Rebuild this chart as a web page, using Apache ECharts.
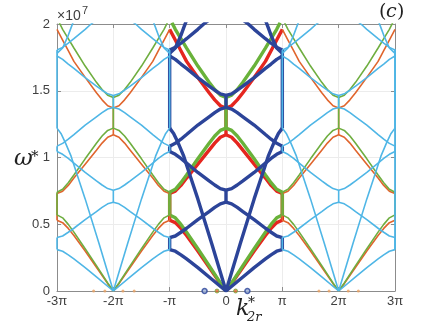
<!DOCTYPE html>
<html lang="en">
<head>
<meta charset="UTF-8">
<title>Band structure (c)</title>
<style>html,body{margin:0;padding:0;background:#fff;}</style>
</head>
<body>
<div id="main" style="width:436px;height:327px;"></div>
<script src="https://cdn.jsdelivr.net/npm/echarts@6/dist/echarts.min.js"></script>
<script>
// x = k2r* / pi , y = omega* / 1e7
var xTicks = [-3, -2, -1, 0, 1, 2, 3];
var xTickLabels = ['-3π', '-2π', '-π', '0', 'π', '2π', '3π'];
var yTickLabels = ['0', '0.5', '1', '1.5', '2'];
var zoneCenters = [-2, 0, 2];

// branches of one half zone: [distance from zone centre (in pi), omega]
var blueS1 = [[0, 0], [0.3, 0.105], [0.5, 0.175], [0.7, 0.24], [0.8, 0.271], [0.9, 0.298], [1, 0.31]];
var blueS2 = [[0, 0.665], [0.1, 0.653], [0.2, 0.626], [0.3, 0.595], [0.5, 0.534], [0.7, 0.47], [0.8, 0.44], [0.9, 0.412], [1, 0.40]];
var blueS3 = [[0, 0.755], [0.1, 0.767], [0.2, 0.794], [0.3, 0.825], [0.5, 0.888], [0.7, 0.958], [0.8, 0.993], [0.9, 1.024], [1, 1.045]];
var blueS4 = [[0, 1.375], [0.1, 1.363], [0.2, 1.336], [0.3, 1.305], [0.5, 1.243], [0.7, 1.172], [0.8, 1.137], [0.9, 1.106], [1, 1.085]];
var blueS5 = [[0, 1.465], [0.1, 1.477], [0.2, 1.504], [0.3, 1.535], [0.5, 1.598], [0.7, 1.668], [0.8, 1.70], [0.9, 1.735], [1, 1.76]];
var blueS6 = [[0.3, 2.03], [0.4, 1.998], [0.5, 1.96], [0.7, 1.89], [0.8, 1.856], [0.9, 1.825], [1, 1.805]];
var blueF1 = [[0, 0], [0.25, 0.35], [0.5, 0.69], [0.65, 0.88], [0.75, 1.01], [0.85, 1.11], [0.93, 1.18], [1, 1.22]];
var blueF2 = [[0.68, 2.05], [0.75, 1.973], [0.8, 1.915], [0.9, 1.82], [1, 1.78]];
var blueCentreGaps = [[0.665, 0.755], [1.375, 1.465]];
var blueEdgeGaps = [[0.31, 0.40], [1.045, 1.085], [1.22, 1.805]];

var greenG1 = [[0, 0], [0.1, 0.06], [0.3, 0.19], [0.5, 0.317], [0.7, 0.441], [0.8, 0.499], [0.9, 0.548], [1, 0.57]];
var greenG2 = [[0, 1.22], [0.1, 1.203], [0.2, 1.161], [0.3, 1.107], [0.5, 0.99], [0.7, 0.869], [0.8, 0.811], [0.9, 0.762], [1, 0.74]];
var greenG3 = [[0, 1.45], [0.1, 1.467], [0.2, 1.509], [0.3, 1.563], [0.5, 1.685], [0.7, 1.82], [0.8, 1.89], [0.9, 1.96], [0.96, 2.01]];
var greenCentreGaps = [[1.22, 1.45]];
var greenEdgeGaps = [[0.57, 0.74]];

var redR1 = [[0, 0], [0.1, 0.055], [0.3, 0.178], [0.5, 0.30], [0.7, 0.416], [0.8, 0.469], [0.9, 0.512], [1, 0.53]];
var redR2 = [[0, 1.17], [0.1, 1.152], [0.2, 1.108], [0.3, 1.055], [0.5, 0.95], [0.7, 0.846], [0.8, 0.791], [0.9, 0.748], [1, 0.73]];
var redR3 = [[0, 1.37], [0.1, 1.388], [0.2, 1.432], [0.3, 1.485], [0.5, 1.60], [0.7, 1.72], [0.8, 1.80], [0.9, 1.88], [1, 1.96]];
var redCentreGaps = [[1.17, 1.37]];
var redEdgeGaps = [[0.53, 0.73]];

var rightEdgeSpan = [0.31, 1.81];
var dotsBlue = [-0.38, 0.38];
var dotsCentre = [-0.16, 0.17];
var dotsOuter = [-2.35, -2.15, -1.83, -1.63, 1.65, 1.83, 2.17, 2.35];

var myChart = echarts.init(document.getElementById('main'));

// mirror a half-zone branch around the zone centre c
function branch(half, c) {
	var right = half.map(function (p) { return [c + p[0], p[1]]; });
	var left = half.map(function (p) { return [c - p[0], p[1]]; }).reverse();
	if (half[0][0] === 0) return [left.concat(right.slice(1))];
	return [left, right];
}

function line(data, color, width) {
	return {
		type: 'line', data: data, showSymbol: false, symbol: 'none', silent: true,
		clip: true, animation: false, xAxisIndex: 0, yAxisIndex: 0,
		lineStyle: {color: color, width: width}
	};
}

var series = [];
function addFamily(branches, centreGaps, edgeGaps, c, color, width) {
	branches.forEach(function (b) {
		branch(b, c).forEach(function (d) { series.push(line(d, color, width)); });
	});
	centreGaps.forEach(function (g) {
		series.push(line([[c, g[0]], [c, g[1]]], color, width));
	});
	edgeGaps.forEach(function (g) {
		series.push(line([[c - 1, g[0]], [c - 1, g[1]]], color, width));
		series.push(line([[c + 1, g[0]], [c + 1, g[1]]], color, width));
	});
}

var blueBranches = [blueS1, blueS2, blueS3, blueS4, blueS5, blueS6, blueF1, blueF2];
var greenBranches = [greenG1, greenG2, greenG3];
var redBranches = [redR1, redR2, redR3];

// first Brillouin zone, thick
addFamily(redBranches, redCentreGaps, redEdgeGaps, 0, '#e5261f', 3.4);
addFamily(greenBranches, greenCentreGaps, greenEdgeGaps, 0, '#69b23a', 3.4);
addFamily(blueBranches, blueCentreGaps, blueEdgeGaps, 0, '#2c4499', 3.4);
// repeated zones, thin
zoneCenters.forEach(function (c) {
	if (c === 0) return;
	addFamily(redBranches, redCentreGaps, redEdgeGaps, c, '#e0652d', 1.6);
	addFamily(greenBranches, greenCentreGaps, greenEdgeGaps, c, '#6fae40', 1.6);
});
zoneCenters.forEach(function (c) {
	if (c === 0) return;
	addFamily(blueBranches, blueCentreGaps, blueEdgeGaps, c, '#4fb6e6', 1.6);
});
series.push(line([[3, rightEdgeSpan[0]], [3, rightEdgeSpan[1]]], '#4fb6e6', 1.8));

series.push({
	type: 'scatter', silent: true, animation: false, symbolSize: 5,
	data: dotsBlue.map(function (k) { return [k, 0]; }),
	itemStyle: {color: '#9fb3d8', borderColor: '#2c4499', borderWidth: 1.5}
});
series.push({
	type: 'scatter', silent: true, animation: false, symbolSize: 4,
	data: dotsCentre.map(function (k) { return [k, 0]; }),
	itemStyle: {color: '#e0652d', borderColor: '#6fae40', borderWidth: 1}
});
series.push({
	type: 'scatter', silent: true, animation: false, symbolSize: 3,
	data: dotsOuter.map(function (k) { return [k, 0]; }),
	itemStyle: {color: '#e8a060'}
});

var axisGrey = '#8c8c8c';
var labelFont = {color: '#404040', fontSize: 13, fontFamily: 'Liberation Sans'};

var option = {
	animation: false,
	grid: {left: 57, right: 41, top: 24, bottom: 36},
	xAxis: [{
		type: 'value', min: -3, max: 3, interval: 1, position: 'bottom',
		axisLine: {onZero: false, lineStyle: {color: axisGrey, width: 1}},
		axisTick: {inside: true, length: 4, lineStyle: {color: axisGrey}},
		splitLine: {show: true, lineStyle: {color: '#ececec', width: 1}},
		axisLabel: Object.assign({margin: 4, formatter: function (v) {
			return xTickLabels[xTicks.indexOf(Math.round(v))];
		}}, labelFont)
	}, {
		type: 'value', min: -3, max: 3, interval: 1, position: 'top',
		axisLine: {onZero: false, lineStyle: {color: axisGrey, width: 1}},
		axisTick: {inside: true, length: 4, lineStyle: {color: axisGrey}},
		splitLine: {show: false}, axisLabel: {show: false}
	}],
	yAxis: [{
		type: 'value', min: 0, max: 2, interval: 0.5, position: 'left',
		axisLine: {show: true, onZero: false, lineStyle: {color: axisGrey, width: 1}},
		axisTick: {show: true, inside: true, length: 4, lineStyle: {color: axisGrey}},
		splitLine: {show: true, lineStyle: {color: '#ececec', width: 1}},
		axisLabel: Object.assign({margin: 7, formatter: function (v) {
			return yTickLabels[Math.round(v * 2)];
		}}, labelFont)
	}, {
		type: 'value', min: 0, max: 2, interval: 0.5, position: 'right',
		axisLine: {show: true, onZero: false, lineStyle: {color: axisGrey, width: 1}},
		axisTick: {show: true, inside: true, length: 4, lineStyle: {color: axisGrey}},
		splitLine: {show: false}, axisLabel: {show: false}
	}],
	graphic: [
		{type: 'text', left: 57, top: 9, style: {text: '×10', fill: '#404040', font: '14px "Liberation Sans"'}},
		{type: 'text', left: 82, top: 5, style: {text: '7', fill: '#404040', font: '11px "Liberation Sans"'}},
		{type: 'text', left: 379, top: 3, style: {text: '(', fill: '#222', font: '19px "DejaVu Serif"'}},
		{type: 'text', left: 386, top: 3, style: {text: 'c', fill: '#222', font: 'italic 19px "DejaVu Serif"'}},
		{type: 'text', left: 397, top: 3, style: {text: ')', fill: '#222', font: '19px "DejaVu Serif"'}},
		{type: 'text', left: 14, top: 148, style: {text: 'ω', fill: '#222', font: 'italic 23px "DejaVu Serif"'}},
		{type: 'text', left: 31, top: 150, style: {text: '*', fill: '#222', font: '15px "DejaVu Serif"'}},
		{type: 'text', left: 236, top: 298, style: {text: 'k', fill: '#222', font: 'italic 22px "DejaVu Serif"'}},
		{type: 'text', left: 248, top: 296, style: {text: '*', fill: '#222', font: '14px "DejaVu Serif"'}},
		{type: 'text', left: 247, top: 311, style: {text: '2r', fill: '#222', font: 'italic 13px "DejaVu Serif"'}}
	],
	series: series
};

myChart.setOption(option);
</script>
</body>
</html>
